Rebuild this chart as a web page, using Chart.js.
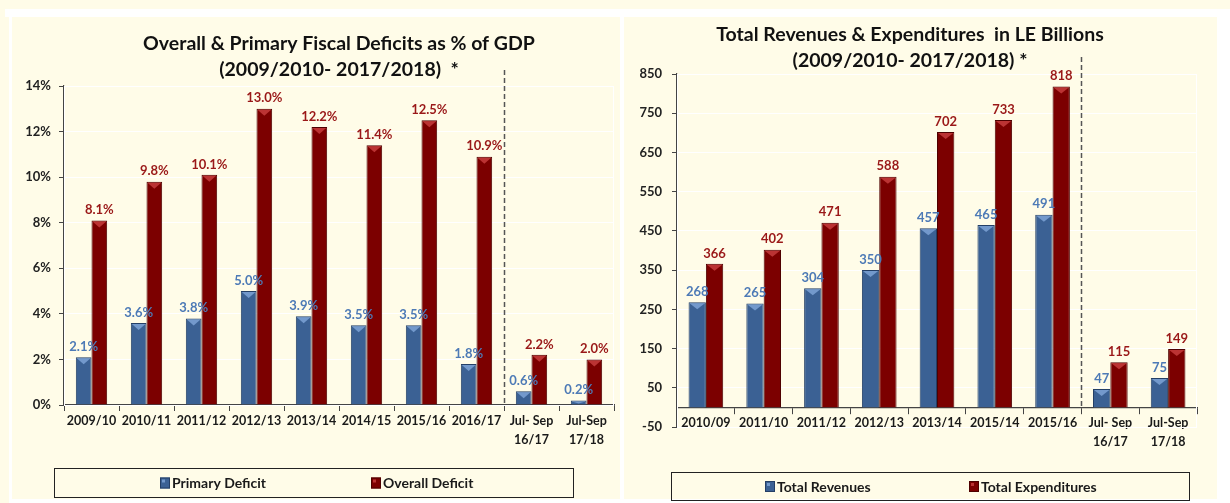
<!DOCTYPE html>
<html>
<head>
<meta charset="utf-8">
<script src="https://cdn.jsdelivr.net/npm/chart.js@4.4.1/dist/chart.umd.min.js"></script>
<style>
    html, body { margin: 0; padding: 0; background: #fffce8; }
    body { width: 1230px; height: 503px; position: relative; overflow: hidden; }
    .strip { position: absolute; background: #ffffff; }
    .panel { position: absolute; top: 0; width: 615px; height: 503px; }
</style>
</head>
<body>
<div class="strip" style="left:5px;top:9px;width:1225px;height:8px"></div>
<div class="strip" style="left:9px;top:17px;width:3px;height:486px"></div>
<div class="strip" style="left:620px;top:17px;width:4px;height:486px"></div>
<div class="strip" style="left:1217px;top:17px;width:13px;height:486px"></div>
<div class="strip" style="left:9px;top:499px;width:1221px;height:4px"></div>

<div class="panel" style="left:0"><canvas id="deficitChart" width="615" height="503"></canvas></div>
<div class="panel" style="left:615px"><canvas id="budgetChart" width="615" height="503"></canvas></div>

<script>
// --- data ---
const deficitYears = ['2009/10', '2010/11', '2011/12', '2012/13', '2013/14', '2014/15', '2015/16', '2016/17', ['Jul- Sep', '16/17'], ['Jul-Sep', '17/18']];
const primaryDeficit = [2.1, 3.6, 3.8, 5.0, 3.9, 3.5, 3.5, 1.8, 0.6, 0.2];
const overallDeficit = [8.1, 9.8, 10.1, 13.0, 12.2, 11.4, 12.5, 10.9, 2.2, 2.0];

const budgetYears = ['2010/09', '2011/10', '2011/12', '2012/13', '2013/14', '2015/14', '2015/16', ['Jul- Sep', '16/17'], ['Jul-Sep', '17/18']];
const totalRevenues = [268, 265, 304, 350, 457, 465, 491, 47, 75];
const totalExpenditures = [366, 402, 471, 588, 702, 733, 818, 115, 149];

const FONT = 'Lato, "Liberation Sans", sans-serif';
const BLUE = '#3b6194', BLUE_EDGE = '#243f66', BLUE_LIGHT = '#7399cc', BLUE_TEXT = '#4d7ab6';
const RED = '#7c0000', RED_EDGE = '#4e0000', RED_LIGHT = '#bb3333', RED_TEXT = '#9a1818';

// white frame round the plot area
const plotFrame = {
    id: 'plotFrame',
    beforeDatasetsDraw(chart) {
        const { ctx, chartArea: a } = chart;
        ctx.save();
        ctx.strokeStyle = '#ffffff';
        ctx.lineWidth = 1;
        ctx.strokeRect(a.left + 0.5, a.top + 0.5, a.right - a.left - 1, a.bottom - a.top);
        ctx.restore();
    }
};

// light triangle on the top of every bar
const bevel = {
    id: 'bevel',
    afterDatasetsDraw(chart) {
        const ctx = chart.ctx;
        chart.data.datasets.forEach((ds, i) => {
            chart.getDatasetMeta(i).data.forEach(bar => {
                const w = bar.width - 2;
                const d = Math.min(6, (bar.base - bar.y) / 2);
                ctx.save();
                ctx.fillStyle = ds.bevelColor;
                ctx.beginPath();
                ctx.moveTo(bar.x - w / 2, bar.y + 1);
                ctx.lineTo(bar.x + w / 2, bar.y + 1);
                ctx.lineTo(bar.x, bar.y + 1 + d);
                ctx.closePath();
                ctx.fill();
                ctx.restore();
            });
        });
    }
};

// value on top of each bar
const valueLabels = {
    id: 'valueLabels',
    afterDatasetsDraw(chart, args, opts) {
        const ctx = chart.ctx;
        ctx.save();
        ctx.font = 'bold 13px ' + FONT;
        ctx.textAlign = 'center';
        ctx.textBaseline = 'bottom';
        chart.data.datasets.forEach((ds, i) => {
            chart.getDatasetMeta(i).data.forEach((bar, j) => {
                ctx.fillStyle = ds.labelColor;
                ctx.fillText(ds.data[j].toFixed(opts.decimals) + opts.suffix, bar.x, bar.y - 4);
            });
        });
        ctx.restore();
    }
};

// dashed line between the full years and the quarters
const divider = {
    id: 'divider',
    afterDatasetsDraw(chart, args, opts) {
        const { ctx, chartArea } = chart;
        const x = chart.scales.x;
        const px = Math.round((x.getPixelForValue(opts.after) + x.getPixelForValue(opts.after + 1)) / 2) + 0.5;
        ctx.save();
        ctx.strokeStyle = '#555';
        ctx.lineWidth = 1.5;
        ctx.setLineDash([5, 3]);
        ctx.beginPath();
        ctx.moveTo(px, chartArea.top - opts.rise);
        ctx.lineTo(px, chart.scales.y.getPixelForValue(0));
        ctx.stroke();
        ctx.restore();
    }
};

// boxed legend
const legendBox = {
    id: 'legendBox',
    afterDraw(chart, args, opts) {
        const ctx = chart.ctx;
        ctx.save();
        ctx.strokeStyle = '#222';
        ctx.lineWidth = 1;
        ctx.strokeRect(opts.left + 0.5, opts.top + 0.5, opts.width, opts.height);
        ctx.font = 'bold 14px ' + FONT;
        ctx.textAlign = 'left';
        ctx.textBaseline = 'middle';
        const cy = opts.top + opts.height / 2;
        chart.data.datasets.forEach((ds, i) => {
            const x = opts.items[i];
            ctx.fillStyle = ds.backgroundColor;
            ctx.fillRect(x, cy - 5, 10, 11);
            ctx.strokeStyle = ds.borderColor;
            ctx.strokeRect(x + 0.5, cy - 4.5, 9, 10);
            ctx.fillStyle = ds.bevelColor;
            ctx.fillRect(x + 2, cy - 3, 3, 3);
            ctx.fillStyle = '#1a1a1a';
            ctx.fillText(ds.label, x + 12, cy + 1);
        });
        ctx.restore();
    }
};

function barSet(label, data, blue) {
    return {
        label: label,
        data: data,
        backgroundColor: blue ? BLUE : RED,
        borderColor: blue ? BLUE_EDGE : RED_EDGE,
        borderWidth: 1,
        bevelColor: blue ? BLUE_LIGHT : RED_LIGHT,
        labelColor: blue ? BLUE_TEXT : RED_TEXT
    };
}

function yScale(min, max, step, suffix, pad) {
    return {
        min: min,
        max: max,
        ticks: {
            stepSize: step,
            padding: pad,
            color: '#222',
            font: { family: FONT, weight: 'bold', size: 13 },
            callback: v => v + suffix
        },
        grid: { color: '#ffffff', tickColor: '#444', tickLength: 5, lineWidth: 1 },
        border: { color: '#444', width: 1.2 },
        afterFit: s => { s.width = 54; }
    };
}

function xScale(extra) {
    return Object.assign({
        ticks: {
            color: '#1a1a1a',
            padding: 0,
            maxRotation: 0,
            autoSkip: false,
            font: { family: FONT, weight: 'bold', size: 12.5, lineHeight: 1.55 }
        },
        grid: { drawOnChartArea: false, tickColor: '#444', tickLength: 6, offset: true },
        border: { color: '#444', width: 1.2 }
    }, extra);
}

function titleOpts(lines, fullSize) {
    return {
        display: true,
        text: lines,
        fullSize: fullSize,
        color: '#111',
        font: { family: FONT, weight: 'bold', size: 19.5, lineHeight: 26 / 19.5 },
        padding: { top: 0, bottom: 0 }
    };
}

new Chart(document.getElementById('deficitChart'), {
    type: 'bar',
    data: {
        labels: deficitYears,
        datasets: [
            barSet('Primary Deficit', primaryDeficit, true),
            barSet('Overall Deficit', overallDeficit, false)
        ]
    },
    options: {
        responsive: false,
        animation: false,
        categoryPercentage: 0.57,
        barPercentage: 1.0,
        layout: { padding: { left: 10, right: 1, top: 31, bottom: 58 } },
        scales: {
            x: xScale({ afterFit: s => { s.height = 40; } }),
            y: yScale(0, 14, 2, '%', 8)
        },
        plugins: {
            legend: { display: false },
            tooltip: { enabled: false },
            title: Object.assign(titleOpts(['Overall & Primary Fiscal Deficits as % of GDP', '(2009/2010- 2017/2018)  *'], false), { padding: { top: 0, bottom: 3 } }),
            valueLabels: { decimals: 1, suffix: '%' },
            divider: { after: 7, rise: 16 },
            legendBox: { left: 54, top: 468, width: 519, height: 29, items: [160, 371] }
        }
    },
    plugins: [plotFrame, bevel, valueLabels, divider, legendBox]
});

new Chart(document.getElementById('budgetChart'), {
    type: 'bar',
    data: {
        labels: budgetYears,
        datasets: [
            barSet('Total Revenues', totalRevenues, true),
            barSet('Total Expenditures', totalExpenditures, false)
        ]
    },
    options: {
        responsive: false,
        animation: false,
        categoryPercentage: 0.6,
        barPercentage: 1.0,
        layout: { padding: { left: 8, right: 33, top: 22, bottom: 76 } },
        scales: {
            x: xScale({ position: { y: 0 } }),
            y: yScale(-50, 850, 100, '', 10)
        },
        plugins: {
            legend: { display: false },
            tooltip: { enabled: false },
            title: titleOpts(['Total Revenues & Expenditures  in LE Billions', '(2009/2010- 2017/2018) *'], true),
            valueLabels: { decimals: 0, suffix: '' },
            divider: { after: 6, rise: 17 },
            legendBox: { left: 56, top: 472, width: 518, height: 28, items: [150, 354] }
        }
    },
    plugins: [plotFrame, bevel, valueLabels, divider, legendBox]
});
</script>
</body>
</html>
